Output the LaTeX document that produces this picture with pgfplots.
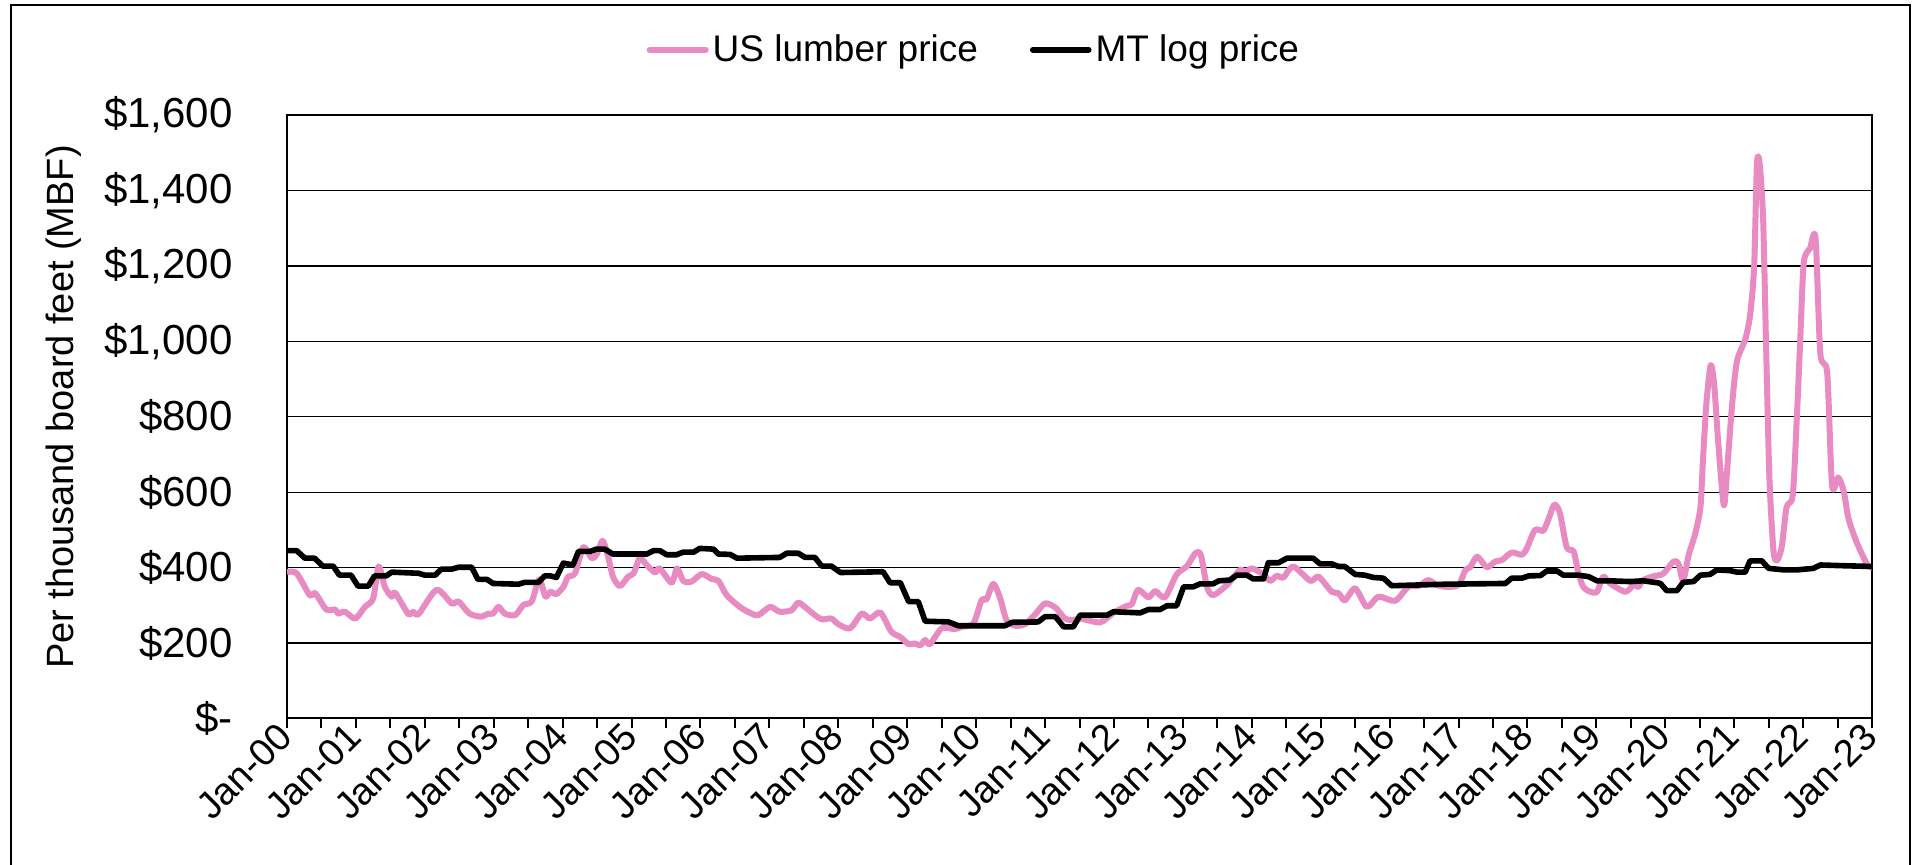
\documentclass[border=0pt]{standalone}
\usepackage{fontspec}
\setmainfont{Liberation Sans}
\usepackage{pgfplots}
\pgfplotsset{compat=1.18}
\definecolor{lumber}{RGB}{231,139,194}
\begin{document}
\begin{tikzpicture}[x=1pt,y=1pt]
\useasboundingbox (0,0) rectangle (958,432.5);
\draw[line width=1pt] (5.35,-2) -- (5.35,430.1) -- (955,430.1) -- (955,-2);
\begin{axis}[
  at={(143.5pt,73.25pt)}, anchor=south west,
  width=792.5pt, height=301.75pt, scale only axis,
  xmin=0, xmax=23, ymin=0, ymax=1600,
  axis line style={line width=1pt},
  tick pos=left,
  ytick={0,200,...,1600},
  yticklabels={\$-\hspace{0.35em},\$200,\$400,\$600,\$800,{\$1,000},{\$1,200},{\$1,400},{\$1,600}},
  ymajorgrids, major grid style={line width=0.65pt, black},
  ytick style={draw=none},
  xtick={0,...,23},
  xticklabels={Jan-00,Jan-01,Jan-02,Jan-03,Jan-04,Jan-05,Jan-06,Jan-07,Jan-08,Jan-09,Jan-10,Jan-11,Jan-12,Jan-13,Jan-14,Jan-15,Jan-16,Jan-17,Jan-18,Jan-19,Jan-20,Jan-21,Jan-22,Jan-23},
  minor xtick={0.5,1.5,...,22.5},
  tick align=outside,
  xtick style={line width=1pt, black},
  minor x tick style={line width=1pt, black},
  major tick length=5pt, minor tick length=5pt,
  x tick label style={rotate=45, anchor=east, font=\fontsize{19}{22}\selectfont, inner sep=1pt},
  y tick label style={font=\fontsize{21}{24}\selectfont, inner sep=0pt, xshift=-22pt},
  legend columns=2,
  legend style={at={(0.434,1.108)}, anchor=center, draw=none, fill=none,
    font=\fontsize{18.5}{22}\selectfont,
    /tikz/every even column/.append style={column sep=24pt}},
  legend image code/.code={\draw[#1, line cap=round] (0pt,0pt) -- (28pt,0pt);},
]
\addplot[lumber, line width=3pt, smooth, tension=0.45, line join=round] coordinates {
(0,388)(0.14,385)(0.33,327)(0.41,332)(0.57,289)(0.70,289)(0.74,278)(0.84,283)(0.99,265)
(1.13,296)(1.25,318)(1.33,403)(1.42,349)(1.52,323)(1.57,333)(1.76,277)(1.83,283)(1.91,277)
(2.17,341)(2.39,305)(2.49,310)(2.65,278)(2.82,270)(2.92,278)(2.99,278)(3.07,296)(3.16,278)
(3.31,274)(3.43,301)(3.55,310)(3.66,369)(3.75,323)(3.82,336)(3.91,330)(4.01,349)(4.08,376)
(4.18,385)(4.30,454)(4.42,425)(4.49,434)(4.58,471)(4.66,429)(4.73,376)(4.83,351)(4.95,376)
(5.03,385)(5.12,425)(5.22,407)(5.34,387)(5.41,398)(5.58,360)(5.66,398)(5.75,365)(5.87,363)
(6.02,383)(6.16,370)(6.26,365)(6.38,327)(6.57,296)(6.72,280)(6.84,274)(7.01,296)(7.15,283)
(7.32,287)(7.42,307)(7.54,292)(7.66,274)(7.76,263)(7.90,265)(8.00,250)(8.17,239)(8.34,278)
(8.46,265)(8.61,281)(8.77,230)(8.90,216)(9.02,197)(9.11,199)(9.19,194)(9.26,208)(9.33,197)
(9.50,239)(9.69,237)(9.79,243)(9.96,252)(10.08,314)(10.15,316)(10.25,357)(10.35,318)(10.44,261)
(10.56,246)(10.71,250)(10.86,277)(11.00,305)(11.15,294)(11.29,265)(11.41,261)(11.51,265)
(11.80,255)(11.99,280)(12.19,299)(12.26,303)(12.35,341)(12.50,321)(12.60,338)(12.74,321)
(12.91,382)(13.06,404)(13.18,438)(13.26,434)(13.35,349)(13.44,327)(13.64,354)(13.83,394)
(13.90,387)(14.00,398)(14.14,385)(14.27,365)(14.36,378)(14.46,374)(14.60,403)(14.85,365)
(14.97,376)(15.16,336)(15.26,332)(15.35,313)(15.50,345)(15.67,296)(15.84,323)(16.08,312)
(16.27,349)(16.42,351)(16.56,367)(16.68,354)(16.83,349)(17.00,354)(17.10,394)(17.17,401)
(17.27,429)(17.41,401)(17.53,416)(17.63,420)(17.77,440)(17.92,434)(17.99,451)(18.11,500)
(18.23,498)(18.31,531)(18.39,567)(18.47,545)(18.57,454)(18.67,443)(18.74,385)(18.81,349)
(18.91,336)(19.01,336)(19.10,376)(19.20,358)(19.42,336)(19.54,354)(19.61,349)(19.68,367)
(19.83,377)(19.97,384)(20.12,416)(20.19,411)(20.26,366)(20.34,434)(20.43,487)(20.51,560)
(20.55,696)(20.60,843)(20.66,937)(20.71,885)(20.77,728)(20.85,565)(20.90,665)(20.97,832)
(21.04,947)(21.16,1005)(21.23,1068)(21.29,1199)(21.33,1471)(21.37,1471)(21.42,1324)(21.46,1010)
(21.51,644)(21.57,445)(21.62,419)(21.69,455)(21.76,560)(21.85,592)(21.91,801)(21.96,1010)
(22.01,1209)(22.10,1246)(22.18,1274)(22.25,968)(22.35,916)(22.42,618)(22.51,639)(22.59,602)
(22.66,529)(22.78,466)(22.93,408)(23.00,400)
};
\addlegendentry{US lumber price}
\addplot[black, line width=2.8pt, line join=round] coordinates {
(0,445)(0.14,445)(0.26,425)(0.40,425)(0.52,404)(0.67,404)(0.76,380)(0.93,380)(1.03,351)
(1.18,351)(1.27,378)(1.44,378)(1.52,388)(1.91,385)(2.00,380)(2.15,380)(2.24,396)(2.39,396)
(2.49,401)(2.68,401)(2.77,369)(2.90,369)(2.99,358)(3.36,356)(3.45,361)(3.65,361)(3.74,378)
(3.82,378)(3.91,374)(4.01,412)(4.15,407)(4.23,443)(4.40,443)(4.49,449)(4.61,449)(4.73,436)
(5.22,436)(5.32,445)(5.41,445)(5.51,434)(5.65,434)(5.75,441)(5.90,441)(5.99,451)(6.19,449)
(6.26,436)(6.43,435)(6.53,425)(7.15,427)(7.25,438)(7.42,438)(7.52,427)(7.66,427)(7.76,404)
(7.90,404)(8.03,387)(8.65,389)(8.75,360)(8.90,360)(9.02,310)(9.16,310)(9.26,258)(9.60,256)
(9.74,246)(10.42,246)(10.52,255)(10.90,256)(11.00,270)(11.15,270)(11.27,243)(11.41,243)
(11.51,274)(11.90,274)(11.99,283)(12.38,280)(12.50,289)(12.67,289)(12.77,299)(12.91,299)
(13.01,349)(13.15,349)(13.25,357)(13.44,357)(13.52,365)(13.68,367)(13.78,380)(13.93,380)
(14.02,370)(14.17,370)(14.24,413)(14.39,413)(14.51,425)(14.89,425)(14.99,410)(15.16,410)
(15.26,403)(15.35,403)(15.50,382)(15.64,380)(15.76,374)(15.91,372)(16.03,352)(16.81,356)
(17.68,358)(17.77,372)(17.92,372)(18.02,378)(18.19,379)(18.28,391)(18.43,391)(18.52,380)
(18.74,380)(18.89,376)(19.01,365)(19.20,365)(19.49,363)(19.68,365)(19.88,360)(19.93,358)
(20.02,339)(20.17,339)(20.26,361)(20.41,363)(20.51,380)(20.65,382)(20.75,394)(20.94,392)
(21.04,388)(21.16,388)(21.23,418)(21.40,418)(21.50,398)(21.72,394)(21.91,394)(22.15,398)
(22.25,407)(22.59,405)(23.0,403)
};
\addlegendentry{MT log price}
\end{axis}
\node[rotate=90, font=\fontsize{19}{22}\selectfont] at (32,229) {Per thousand board feet (MBF)};
\end{tikzpicture}
\end{document}
